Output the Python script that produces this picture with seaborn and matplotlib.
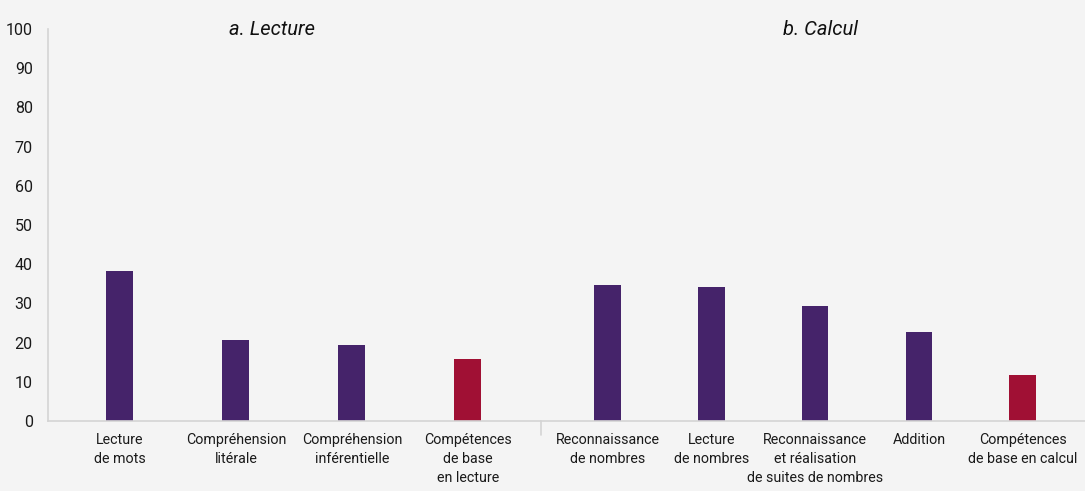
"""   Acquis en lecture et en calcul : deux panneaux de barres   """

import matplotlib.pyplot as plt
import seaborn as sns

# ~~~~~~~~~~   Data   ~~~~~~~~~~~~~~~~~~~~~~~~~~~~~~~~~~~~~~~~~~~~~~~~~~~~~~~~~~~~~~~~~~ #
lecture_labels = ['Lecture\nde mots', 'Compréhension\nlitérale',
                  'Compréhension\ninférentielle', 'Compétences\nde base\nen lecture']
lecture_values = [38.3, 20.7, 19.4, 15.8]

calcul_labels = ['Reconnaissance\nde nombres', 'Lecture\nde nombres',
                 'Reconnaissance\net réalisation\nde suites de nombres', 'Addition',
                 'Compétences\nde base en calcul']
calcul_values = [34.7, 34.2, 29.3, 22.7, 11.7]

y_ticks = list(range(0, 101, 10))

PURPLE = '#45236a'
RED = '#a01034'
BG = '#f4f4f4'
AXIS = '#d4d4d4'

# ~~~~~~~~~~   Figure   ~~~~~~~~~~~~~~~~~~~~~~~~~~~~~~~~~~~~~~~~~~~~~~~~~~~~~~~~~~~~~~~~ #
sns.set_style('white')
plt.rcParams['font.family'] = ['Roboto', 'DejaVu Sans']

fig = plt.figure(figsize=(10.85, 4.91), dpi=100, facecolor=BG)
ax1 = fig.add_axes([0.0442, 0.1426, 0.4544, 0.7983], facecolor=BG)
ax2 = fig.add_axes([0.4986, 0.1426, 0.5014, 0.7983], facecolor=BG)


def draw_panel(ax, labels, values, width, xlim, title, title_x):
    colors = [PURPLE] * (len(labels) - 1) + [RED]
    sns.barplot(x=labels, y=values, hue=labels, palette=colors, legend=False,
                width=width, saturation=1, linewidth=0, ax=ax)
    ax.set_xlim(*xlim)
    ax.set_ylim(0, 100)
    ax.set(xlabel='', ylabel='')
    ax.tick_params(axis='x', length=0, pad=9, labelsize=10.3, colors='#1a1a1a')
    for lab in ax.get_xticklabels():
        lab.set_linespacing(1.45)
    for side in ['top', 'right', 'left']:
        ax.spines[side].set_visible(False)
    ax.spines['bottom'].set_color(AXIS)
    ax.spines['bottom'].set_linewidth(1.2)
    ax.text(title_x, 1.0, title, transform=ax.transAxes, ha='center', va='center',
            fontsize=14.5, style='italic', color='#111111')


draw_panel(ax1, lecture_labels, lecture_values, 0.233, (-0.62, 3.63), 'a. Lecture', 0.455)
draw_panel(ax2, calcul_labels, calcul_values, 0.257, (-0.64, 4.6), 'b. Calcul', 0.513)

# y axis only on the left panel
ax1.spines['left'].set_visible(True)
ax1.spines['left'].set_color(AXIS)
ax1.spines['left'].set_linewidth(1.2)
ax1.set_yticks(y_ticks)
ax1.tick_params(axis='y', length=5, width=1, labelsize=11.5, pad=6)
ax1.tick_params(axis='y', labelcolor='#1a1a1a', color=AXIS)
ax2.set_yticks([])

# small separator tick between the two panels
ax2.plot([0, 0], [0, -0.035], transform=ax2.transAxes, color=AXIS, lw=1.2, clip_on=False)

fig.savefig('out.png', dpi=100, facecolor=BG)
